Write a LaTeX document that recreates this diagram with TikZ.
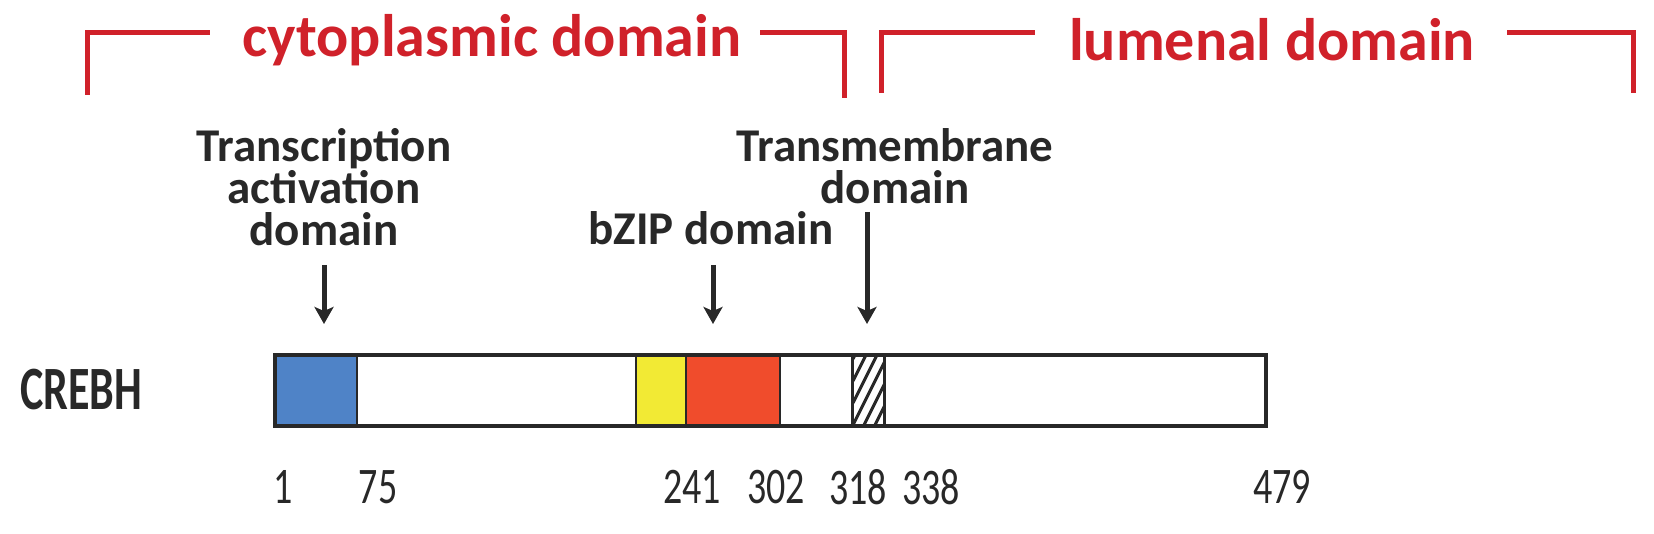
\documentclass[tikz,border=0pt]{standalone}
\usepackage{fontspec}
\usepackage{graphicx}
\setmainfont{Carlito}
\usetikzlibrary{arrows.meta,fit}
\definecolor{brk}{RGB}{208,33,42}
\definecolor{txt}{RGB}{40,40,40}
\definecolor{tadblue}{RGB}{79,131,199}
\definecolor{zipyellow}{RGB}{242,234,52}
\definecolor{zipred}{RGB}{240,76,44}
\newcommand{\tightlines}{\setlength{\lineskiplimit}{-50pt}}
\begin{document}
\begin{tikzpicture}[x=0.5pt,y=-0.5pt,
 bracket/.style={draw=brk, line width=2.5pt},
 redlabel/.style={text=brk, font={\fontsize{30}{36}\selectfont\bfseries}, inner sep=0},
 lbl/.style={text=txt, font={\fontsize{23.5}{21}\selectfont\bfseries\tightlines}, align=center, inner sep=0},
 arr/.style={draw=txt, line width=2.5pt, -{Stealth[width=9.5pt,length=8.5pt,inset=2pt]}},
 seg/.style={draw=txt, line width=1.2pt, inner sep=0, rectangle},
 num/.style={text=txt, font={\fontsize{19}{20}\selectfont}, inner sep=0},
]
\useasboundingbox (0,0) rectangle (1654,534);
% red domain brackets
\node[redlabel] (cyto) at (492,40) {cytoplasmic domain};
\node[redlabel] (lum) at (1272,40) {lumenal domain};
\coordinate (c1) at (87,95);
\coordinate (c2) at (210,33);
\coordinate (c3) at (760,33);
\coordinate (c4) at (844,98);
\coordinate (l1) at (881,93);
\coordinate (l2) at (1035,33);
\coordinate (l3) at (1507,33);
\coordinate (l4) at (1633,93);
\draw[bracket] (c1) |- (c2);
\draw[bracket] (c3) -| (c4);
\draw[bracket] (l1) |- (l2);
\draw[bracket] (l3) -| (l4);
% labels
\node[lbl] (tadlbl) at (324,187) {Transcription\\activation\\domain};
\node[lbl] (tmlbl) at (895,166) {Transmembrane\\domain};
\node[lbl] (ziplbl) at (711,228) {bZIP domain};
\node[text=txt, font={\fontsize{22}{24}\selectfont\bfseries}, inner sep=0] (crebh) at (81,390) {\scalebox{1}[1.4]{CREBH}};
% bar
\node[seg, fill=white, fit={(276,356) (1265,425)}] (bar) {};
\node[seg, fill=tadblue, fit={(276,356) (357,425)}] (tad) {};
\node[seg, fill=zipyellow, fit={(636,356) (686,425)}] (yel) {};
\node[seg, fill=zipred, fit={(686,356) (780,425)}] (zip) {};
\node[seg, fill=white, fit={(853,356) (884,425)}] (tm) {};
\begin{scope}
\clip (tm.south west) rectangle (tm.north east);
\foreach \s in {-44,-22,0,22,44,66,88} {
  \draw[txt, line width=1.5pt] (853,425-\s) -- ++(40,-80);
}
\end{scope}
\draw[seg] (tm.north west) rectangle (tm.south east);
\draw[seg, fill=none, line width=2pt] (bar.north west) rectangle (bar.south east);
% arrows
\coordinate (a1s) at (324,265); \coordinate (a1e) at (324,324);
\coordinate (a2s) at (713,265); \coordinate (a2e) at (713,324);
\coordinate (a3s) at (867,212); \coordinate (a3e) at (867,324);
\draw[arr] (a1s) -- (a1e);
\draw[arr] (a2s) -- (a2e);
\draw[arr] (a3s) -- (a3e);
% numbers
\node[num] (n1) at (283,487) {\scalebox{1}[1.35]{1}};
\node[num] (n75) at (378,487) {\scalebox{1}[1.35]{75}};
\node[num] (n241) at (692,487) {\scalebox{1}[1.35]{241}};
\node[num] (n302) at (776,487) {\scalebox{1}[1.35]{302}};
\node[num] (n318) at (858,487) {\scalebox{1}[1.35]{318}};
\node[num] (n338) at (931,487) {\scalebox{1}[1.35]{338}};
\node[num] (n479) at (1282,487) {\scalebox{1}[1.35]{479}};
\end{tikzpicture}
\end{document}
